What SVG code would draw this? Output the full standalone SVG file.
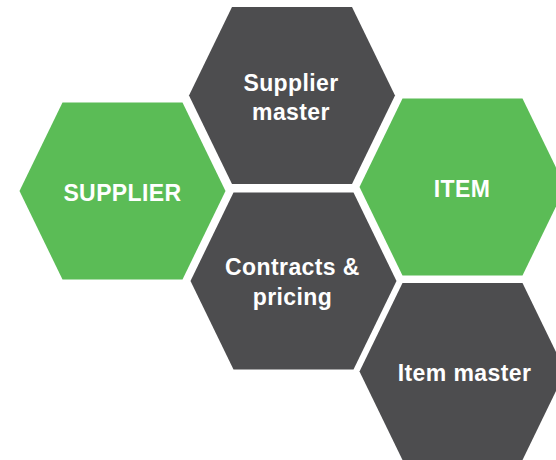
<svg xmlns="http://www.w3.org/2000/svg" width="556" height="460" viewBox="0 0 556 460">
<defs>
<style>
.g{fill:#5BBC56}
.d{fill:#4D4D4F}
text{font-family:"Liberation Sans",Arial,sans-serif;font-weight:bold;font-size:23px;letter-spacing:0.4px;fill:#FFFFFF;text-anchor:middle}
</style>
<polygon id="hex" points="-60,-88.5 60,-88.5 103,0 60,88.5 -60,88.5 -103,0"/>
</defs>
<rect width="556" height="460" fill="#FFFFFF"/>
<g id="supplier">
<use href="#hex" class="g" x="122.5" y="191"/>
<text x="122.5" y="200.5">SUPPLIER</text>
</g>
<g id="supplier-master">
<use href="#hex" class="d" x="292" y="95.5"/>
<text x="291" y="90.5">Supplier</text>
<text x="291" y="119.5">master</text>
</g>
<g id="item">
<use href="#hex" class="g" x="462.5" y="187"/>
<text x="462" y="196.5">ITEM</text>
</g>
<g id="contracts-pricing">
<use href="#hex" class="d" x="293.5" y="281"/>
<text x="292.5" y="275">Contracts &amp;</text>
<text x="292.5" y="304.5">pricing</text>
</g>
<g id="item-master">
<use href="#hex" class="d" x="462.5" y="371.5"/>
<text x="464.5" y="381">Item master</text>
</g>
<g id="connectors"/>
</svg>
